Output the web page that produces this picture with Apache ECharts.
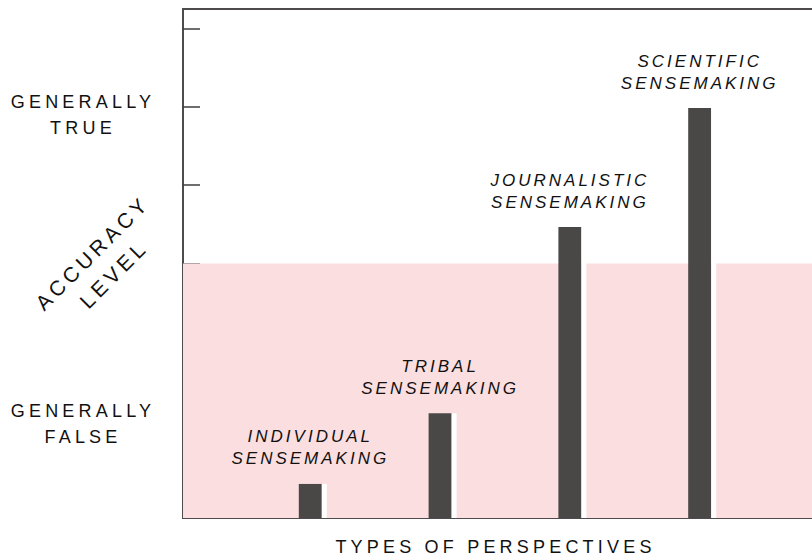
<!DOCTYPE html>
<html>
<head>
<meta charset="utf-8">
<script src="https://cdn.jsdelivr.net/npm/echarts@6/dist/echarts.min.js"></script>
<style>
  html, body { margin: 0; padding: 0; background: #fff; }
  #chart { width: 812px; height: 559px; }
  /* the original lettering is widely tracked */
  #chart text { letter-spacing: 4.2px; }
  #chart text[style*="italic"] { letter-spacing: 3px; }
</style>
</head>
<body>
<div id="chart"></div>
<script>
// empty slots on both ends keep the spacing of the original
const perspectives = ['', 'INDIVIDUAL\nSENSEMAKING', 'TRIBAL\nSENSEMAKING', 'JOURNALISTIC\nSENSEMAKING', 'SCIENTIFIC\nSENSEMAKING', '']
const accuracy = ['-', 1.74, 5.35, 14.86, 20.94, '-']
const tickValues = [1, 5, 9, 13, 17, 21, 25]
const levelValues = [4.8, 20.6]
const levelNames = ['GENERALLY\nFALSE', 'GENERALLY\nTRUE']
const falseBandTop = 13

const chart = echarts.init(document.getElementById('chart'), null, { renderer: 'svg' })

const option = {
  animation: false,
  textStyle: { fontFamily: 'Liberation Sans' },
  grid: {
    left: 183,
    right: -20,
    top: 9,
    bottom: 41,
    containLabel: false,
    outerBoundsMode: 'none',
    show: true,
    borderColor: '#4d4b4b',
    borderWidth: 2,
    backgroundColor: 'transparent'
  },
  xAxis: {
    type: 'category',
    data: perspectives,
    boundaryGap: false,
    axisLine: { show: false },
    axisTick: { show: false },
    axisLabel: { show: false },
    splitLine: { show: false },
    name: 'TYPES OF PERSPECTIVES',
    nameLocation: 'middle',
    nameMoveOverlap: false,
    nameGap: 20,
    nameTextStyle: {
      fontSize: 18,
      color: '#111',
      padding: [0, 24, 0, 0]
    }
  },
  yAxis: {
    type: 'value',
    min: 0,
    max: 26,
    splitLine: { show: false },
    axisLine: { show: false },
    axisTick: {
      show: true,
      inside: true,
      length: 17,
      customValues: tickValues,
      lineStyle: { color: '#3f3d3d', width: 1.5 }
    },
    axisLabel: {
      customValues: levelValues,
      formatter: v => levelNames[levelValues.indexOf(v)] || '',
      align: 'center',
      margin: 100,
      fontSize: 18,
      lineHeight: 26,
      color: '#111'
    },
    name: 'ACCURACY\nLEVEL',
    nameLocation: 'middle',
    nameMoveOverlap: false,
    nameGap: 80,
    nameRotate: 45,
    nameTextStyle: {
      fontSize: 21,
      lineHeight: 30,
      color: '#111',
      align: 'center',
      verticalAlign: 'middle'
    }
  },
  series: [
    {
      name: 'accuracy',
      type: 'bar',
      data: accuracy,
      barWidth: 23,
      barGap: 0,
      itemStyle: { color: '#4a4747' },
      label: {
        show: true,
        position: 'top',
        distance: 14,
        formatter: '{b}',
        fontStyle: 'italic',
        fontSize: 17,
        lineHeight: 22,
        color: '#111'
      },
      markArea: {
        silent: true,
        itemStyle: { color: '#fbdfe0', opacity: 1 },
        data: [[{ yAxis: 0 }, { yAxis: falseBandTop }]]
      }
    },
    {
      name: 'gap',
      type: 'bar',
      data: accuracy,
      barWidth: 5,
      barGap: 0,
      silent: true,
      itemStyle: { color: '#ffffff' }
    }
  ]
}

chart.setOption(option)
</script>
</body>
</html>
